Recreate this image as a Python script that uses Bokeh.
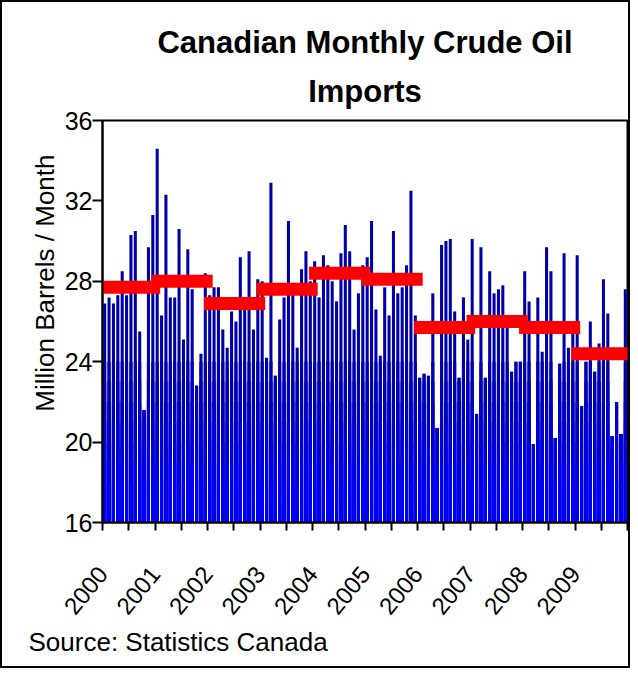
from math import pi, radians
from bokeh.plotting import figure
from bokeh.models import FixedTicker, Title
from bokeh.embed import file_html
from bokeh.resources import INLINE

# ---- data (million barrels per month) ----
years = ["2000", "2001", "2002", "2003", "2004", "2005", "2006", "2007", "2008", "2009"]
imports_2000 = [26.9, 27.2, 26.9, 27.3, 28.5, 27.3, 30.3, 30.5, 25.5, 21.6, 29.7, 31.3]
imports_2001 = [34.6, 26.3, 32.3, 27.2, 27.2, 30.6, 25.1, 29.6, 27.6, 22.8, 24.4, 28.4]
imports_2002 = [27.3, 27.7, 27.7, 25.6, 24.7, 26.5, 26.0, 29.2, 26.8, 29.5, 25.6, 28.1]
imports_2003 = [28.0, 24.2, 32.9, 23.3, 26.1, 27.2, 31.0, 27.5, 24.7, 28.6, 29.5, 28.0]
imports_2004 = [29.0, 27.2, 29.3, 28.8, 28.0, 27.0, 29.4, 30.8, 29.5, 25.6, 27.4, 28.8]
imports_2005 = [29.2, 31.0, 26.6, 24.3, 27.7, 26.3, 30.5, 27.4, 27.7, 28.8, 32.5, 26.3]
imports_2006 = [23.2, 23.4, 23.3, 27.4, 20.7, 29.8, 30.0, 30.1, 26.5, 23.2, 27.2, 25.1]
imports_2007 = [30.1, 21.4, 29.7, 23.2, 28.5, 27.4, 27.6, 27.8, 26.0, 23.5, 24.0, 24.0]
imports_2008 = [28.5, 27.0, 19.9, 27.2, 24.5, 29.7, 28.5, 20.2, 23.9, 29.4, 24.7, 25.4]
imports_2009 = [29.3, 21.8, 24.0, 26.0, 23.5, 24.9, 28.1, 26.4, 20.3, 22.0, 20.4, 27.6]
annual_avg = [27.7, 28.0, 26.9, 27.6, 28.4, 28.1, 25.7, 26.0, 25.7, 24.4]
y_ticks = [16, 20, 24, 28, 32, 36]

monthly = (imports_2000 + imports_2001 + imports_2002 + imports_2003 + imports_2004
           + imports_2005 + imports_2006 + imports_2007 + imports_2008 + imports_2009)
month_x = [i + 0.5 for i in range(len(monthly))]

FONT = "Liberation Sans"

p = figure(width=630, height=668, x_range=(0, 120), y_range=(16, 36),
           output_backend="svg", toolbar_location=None, title=None,
           min_border_left=100, min_border_right=5, min_border_top=118,
           min_border_bottom=148)
p.styles = {"border": "2px solid black"}

# bars with a vertical dark-to-bright blue gradient
shade_levels = [36, 24, 23, 22, 21, 20, 19, 18]
shade_colors = ["#0000a8", "#0000b0", "#0000b8", "#0000c4", "#0000d2", "#0000e0", "#0000ee", "#0000fa"]
for lvl, col in zip(shade_levels, shade_colors):
    tops = [min(v, lvl) for v in monthly]
    p.vbar(x=month_x, top=tops, bottom=16, width=0.7, fill_color=col, line_color=None)

# annual averages
x0 = [12 * k + 0.7 for k in range(len(years))]
x1 = [12 * k + 11.7 for k in range(len(years))]
p.segment(x0=x0, y0=annual_avg, x1=x1, y1=annual_avg, line_color="#ff0000",
          line_width=13, line_cap="square")

# axes
p.xgrid.visible = False
p.ygrid.visible = False
p.outline_line_color = "black"
p.outline_line_width = 2

p.yaxis.ticker = FixedTicker(ticks=y_ticks)
p.yaxis.major_label_text_font = FONT
p.yaxis.major_label_text_font_size = "25px"
p.yaxis.major_label_text_color = "black"
p.yaxis.major_tick_out = 10
p.yaxis.major_tick_in = 0
p.yaxis.minor_tick_out = 0
p.yaxis.major_label_standoff = 0
p.yaxis.axis_line_width = 2
p.yaxis.major_tick_line_width = 2

# y-axis title, sitting a little above centre as in the original
p.add_layout(Title(text="Million Barrels / Month", align="right", offset=34,
                   text_font=FONT, text_font_size="26px", text_font_style="normal",
                   text_color="black", standoff=4), "left")

x_ticks = list(range(0, 121, 6))
p.xaxis.ticker = FixedTicker(ticks=x_ticks)
p.xaxis.major_label_overrides = {t: (years[t // 12] if t % 12 == 0 and t // 12 < len(years) else "") for t in x_ticks}
p.xaxis.major_label_orientation = radians(51)
p.xaxis.major_label_text_font = FONT
p.xaxis.major_label_text_font_size = "24px"
p.xaxis.major_label_text_color = "black"
p.xaxis.major_tick_out = 8
p.xaxis.major_tick_in = 0
p.xaxis.minor_tick_out = 0
p.xaxis.major_label_standoff = 39
p.xaxis.axis_line_width = 2
p.xaxis.major_tick_line_width = 2

# chart title on two centred lines
p.add_layout(Title(text="Imports", align="center", text_font=FONT, text_font_size="31px",
                   text_font_style="bold", text_color="black", standoff=24), "above")
p.add_layout(Title(text="Canadian Monthly Crude Oil", align="center", text_font=FONT,
                   text_font_size="31px", text_font_style="bold", text_color="black",
                   standoff=0), "above")
p.add_layout(Title(text="Source: Statistics Canada", align="left", text_font=FONT,
                   text_font_size="26px", text_font_style="normal", text_color="black",
                   offset=-74, standoff=0), "below")

open("out.html", "w").write(file_html(p, INLINE))
